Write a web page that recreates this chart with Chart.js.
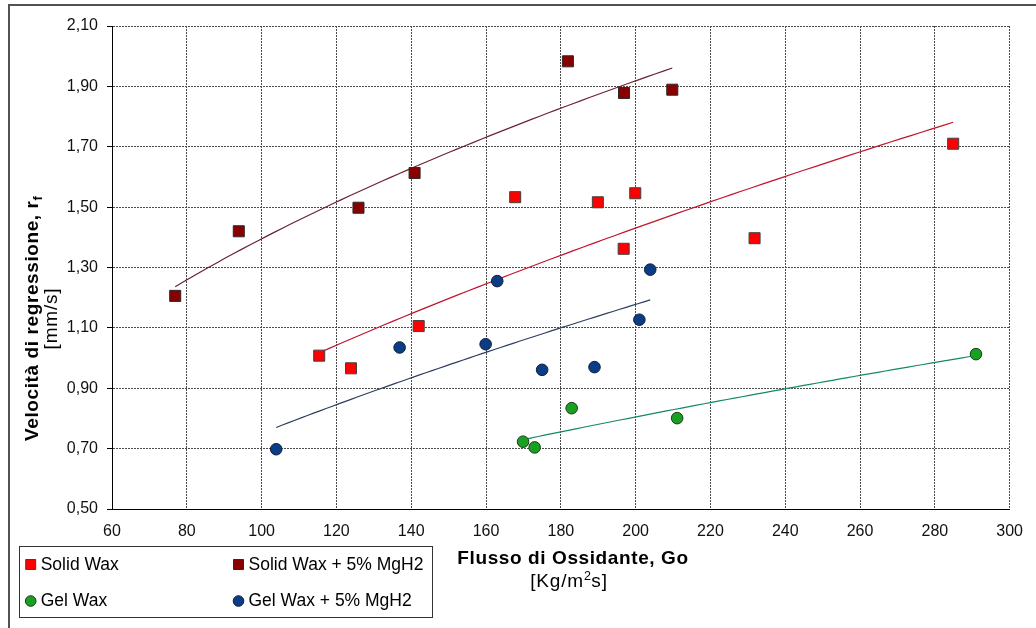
<!DOCTYPE html>
<html>
<head>
<meta charset="utf-8">
<script src="https://cdn.jsdelivr.net/npm/chart.js@4.4.1/dist/chart.umd.min.js"></script>
<style>
  html, body { margin: 0; padding: 0; background: #fff; }
  #wrap { position: relative; width: 1036px; height: 628px; }
</style>
</head>
<body>
<div id="wrap"><canvas id="c" width="1036" height="628"></canvas></div>
<script>
// Regression rate vs oxidizer mass flux, four fuel formulations
const seriesNames = ['Solid Wax', 'Solid Wax + 5% MgH2', 'Gel Wax', 'Gel Wax + 5% MgH2'];

const solidWaxG = [115.4, 123.9, 142.0, 167.8, 189.9, 196.8, 199.9, 231.8, 284.9];
const solidWaxR = [1.008, 0.966, 1.106, 1.533, 1.516, 1.362, 1.546, 1.397, 1.710];

const solidMgG = [76.9, 93.9, 125.9, 140.9, 181.9, 196.9, 209.8];
const solidMgR = [1.206, 1.420, 1.498, 1.613, 1.983, 1.878, 1.889];

const gelWaxG = [169.9, 173.0, 182.9, 211.1, 291.0];
const gelWaxR = [0.723, 0.704, 0.834, 0.801, 1.013];

const gelMgG = [103.9, 136.9, 159.9, 163.0, 175.0, 189.0, 201.0, 203.9];
const gelMgR = [0.698, 1.035, 1.046, 1.255, 0.961, 0.970, 1.127, 1.293];

const xTicks = [60, 80, 100, 120, 140, 160, 180, 200, 220, 240, 260, 280, 300];
const yTicks = [0.50, 0.70, 0.90, 1.10, 1.30, 1.50, 1.70, 1.90, 2.10];

// Styles
const FONT = '"Liberation Sans", Arial, Helvetica, sans-serif';
const markerFill   = ['#FF0000', '#880000', '#18A020', '#0B3C86'];
const markerBorder = ['#404040', '#2a2a2a', '#1e3a1e', '#10203a'];
const markerShape  = ['rect', 'rect', 'circle', 'circle'];
const trendColor   = ['#C0142C', '#6B2234', '#138A62', '#2E3F5E'];

const groups = [
  [solidWaxG, solidWaxR],
  [solidMgG, solidMgR],
  [gelWaxG, gelWaxR],
  [gelMgG, gelMgR]
];

// Least-squares power trend  r = a * G^b  (fit in log-log space)
function powerFit(xs, ys) {
  const n = xs.length;
  const lx = xs.map(Math.log), ly = ys.map(Math.log);
  const mx = lx.reduce((s, v) => s + v, 0) / n;
  const my = ly.reduce((s, v) => s + v, 0) / n;
  let sxy = 0, sxx = 0;
  for (let i = 0; i < n; i++) { sxy += (lx[i] - mx) * (ly[i] - my); sxx += (lx[i] - mx) ** 2; }
  const b = sxy / sxx;
  const a = Math.exp(my - b * mx);
  return { a, b };
}
function trendPoints(xs, ys) {
  const { a, b } = powerFit(xs, ys);
  const lo = Math.min(...xs), hi = Math.max(...xs);
  const pts = [];
  const steps = 60;
  for (let i = 0; i <= steps; i++) {
    const x = lo + (hi - lo) * i / steps;
    pts.push({ x, y: a * Math.pow(x, b) });
  }
  return pts;
}

const datasets = [];
groups.forEach(([gx, gy], i) => {
  datasets.push({
    label: seriesNames[i],
    data: gx.map((x, k) => ({ x, y: gy[k] })),
    pointStyle: markerShape[i],
    pointRadius: markerShape[i] === 'rect' ? 7.8 : 5.8,
    pointHoverRadius: markerShape[i] === 'rect' ? 7.8 : 5.8,
    pointBackgroundColor: markerFill[i],
    pointBorderColor: markerBorder[i],
    pointBorderWidth: 1,
    showLine: false,
    order: 1
  });
});
groups.forEach(([gx, gy], i) => {
  datasets.push({
    label: seriesNames[i] + ' trend',
    data: trendPoints(gx, gy),
    showLine: true,
    borderColor: trendColor[i],
    borderWidth: 1.2,
    pointRadius: 0,
    pointHoverRadius: 0,
    fill: false,
    tension: 0,
    order: 2
  });
});

function measure(ctx, p) {
  ctx.font = (p.bold ? 'bold ' : '') + p.size + 'px ' + FONT;
  if ('letterSpacing' in ctx) ctx.letterSpacing = '0px';
  return ctx.measureText(p.t).width + (p.ls || 0) * p.t.length;
}
function drawRuns(ctx, parts, x, y, align) {
  let total = 0;
  parts.forEach(p => { p.w = measure(ctx, p); total += p.w; });
  let cx = align === 'center' ? x - total / 2 : x;
  ctx.textAlign = 'left';
  ctx.textBaseline = 'alphabetic';
  parts.forEach(p => {
    ctx.font = (p.bold ? 'bold ' : '') + p.size + 'px ' + FONT;
    if ('letterSpacing' in ctx) ctx.letterSpacing = (p.ls || 0) + 'px';
    ctx.fillText(p.t, cx, y + (p.dy || 0));
    cx += p.w;
  });
  if ('letterSpacing' in ctx) ctx.letterSpacing = '0px';
}

const decorations = {
  id: 'decorations',
  beforeDraw(chart) {
    const ctx = chart.ctx;
    ctx.save();
    ctx.fillStyle = '#fff';
    ctx.fillRect(0, 0, chart.width, chart.height);
    // outer frame (top and left edges)
    ctx.strokeStyle = '#525252';
    ctx.lineWidth = 2;
    ctx.beginPath();
    ctx.moveTo(9, 628);
    ctx.lineTo(9, 5);
    ctx.lineTo(1036, 5);
    ctx.stroke();
    ctx.restore();
  },
  afterDraw(chart) {
    const ctx = chart.ctx;
    ctx.save();
    ctx.fillStyle = '#000';

    // x axis title
    drawRuns(ctx, [{ t: 'Flusso di Ossidante, Go', size: 19, bold: true, ls: 0.6 }], 573, 563.5, 'center');
    drawRuns(ctx, [
      { t: '[Kg/m', size: 19, ls: 0.8 },
      { t: '2', size: 12.5, dy: -7, ls: 0.5 },
      { t: 's]', size: 19, ls: 0.8 }
    ], 569, 587, 'center');

    // y axis title (rotated)
    ctx.save();
    ctx.translate(37.5, 318.5);
    ctx.rotate(-Math.PI / 2);
    drawRuns(ctx, [
      { t: 'Velocità di regressione, r', size: 19, bold: true, ls: 0.6 },
      { t: 'f', size: 13, bold: true, dy: 4 }
    ], 0, 0, 'center');
    ctx.restore();
    ctx.save();
    ctx.translate(56.5, 318.5);
    ctx.rotate(-Math.PI / 2);
    drawRuns(ctx, [{ t: '[mm/s]', size: 19, ls: 0.8 }], 0, 0, 'center');
    ctx.restore();

    // legend box
    ctx.strokeStyle = '#333';
    ctx.lineWidth = 1;
    ctx.strokeRect(19.5, 546.5, 413, 71);
    const cols = [30.7, 238.5];
    const rows = [564.5, 601];
    for (let i = 0; i < 4; i++) {
      const cx = cols[i % 2], cy = rows[Math.floor(i / 2)];
      ctx.fillStyle = markerFill[i];
      ctx.strokeStyle = markerBorder[i];
      ctx.lineWidth = 1;
      ctx.beginPath();
      if (markerShape[i] === 'rect') {
        ctx.rect(cx - 5, cy - 5, 10, 10);
      } else {
        ctx.arc(cx, cy, 5.3, 0, Math.PI * 2);
      }
      ctx.fill();
      ctx.stroke();
      ctx.fillStyle = '#000';
      ctx.font = '17.5px ' + FONT;
      ctx.textAlign = 'left';
      ctx.textBaseline = 'middle';
      ctx.fillText(seriesNames[i], cx + 10, cy + 0.5);
    }
    ctx.restore();
  }
};

const fmtComma = v => v.toFixed(2).replace('.', ',');

new Chart(document.getElementById('c'), {
  type: 'scatter',
  data: { datasets },
  plugins: [decorations],
  options: {
    responsive: false,
    animation: false,
    devicePixelRatio: 1,
    layout: { padding: { left: 0, right: 24, top: 26, bottom: 0 } },
    plugins: { legend: { display: false }, tooltip: { enabled: false } },
    scales: {
      x: {
        type: 'linear',
        min: 60, max: 300,
        afterBuildTicks: s => { s.ticks = xTicks.map(v => ({ value: v })); },
        afterFit: s => { s.height = 119; },
        grid: { color: '#4a4a4a', lineWidth: 1, drawTicks: false, borderDash: [2, 1], tickBorderDash: [] },
        border: { display: true, color: '#000', width: 1, dash: [2, 1] },
        ticks: {
          autoSkip: false, maxRotation: 0, padding: 13, color: '#111',
          font: { family: FONT, size: 16 },
          callback: v => String(v)
        }
      },
      y: {
        type: 'linear',
        min: 0.5, max: 2.1,
        afterBuildTicks: s => { s.ticks = yTicks.map(v => ({ value: v })); },
        afterFit: s => { s.width = 112; },
        grid: { color: '#4a4a4a', lineWidth: 1, drawTicks: true, tickLength: 5, tickColor: '#000', borderDash: [2, 1], tickBorderDash: [] },
        border: { display: true, color: '#000', width: 1, dash: [2, 1] },
        ticks: {
          padding: 9, color: '#111',
          font: { family: FONT, size: 16 },
          callback: v => fmtComma(v)
        }
      }
    }
  }
});
</script>
</body>
</html>
